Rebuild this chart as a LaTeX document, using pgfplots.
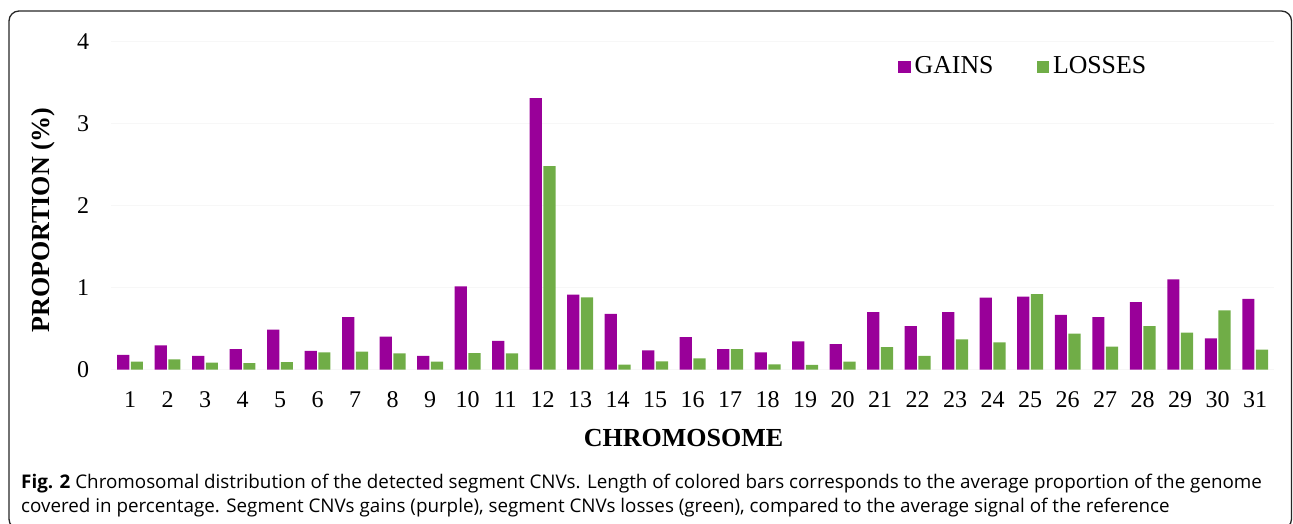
\documentclass[border=0pt]{standalone}
\usepackage{pgfplots}
\pgfplotsset{compat=1.18}
\usepackage{fontspec}
\setmainfont{Liberation Serif}
\newfontfamily\capfont{Open Sans}
\definecolor{gainc}{HTML}{990099}
\definecolor{lossc}{HTML}{70AD47}
\begin{document}
\begin{tikzpicture}[x=1pt,y=1pt]
\useasboundingbox (0,0) rectangle (1293,523);
\draw[line width=1.3pt, rounded corners=10pt, black!85] (9,-6) rectangle (1291.5,512);
\begin{axis}[
  at={(111.25pt,153.5pt)}, anchor=south west,
  scale only axis, width=1162.75pt, height=328pt,
  xmin=0.5, xmax=31.5, ymin=0, ymax=4,
  ybar=1.5pt, bar width=12.2pt,
  axis line style={draw=none},
  major tick length=0pt,
  xtick={1,...,31}, ytick={0,1,2,3,4},
  ymajorgrids, grid style={black!3},
  /pgf/number format/assume math mode=true,
  tick label style={font=\fontsize{24}{24}\selectfont, inner sep=0pt},
  xticklabel style={anchor=north, yshift=-22pt},
  yticklabel style={anchor=east, xshift=-22pt},
  xlabel={CHROMOSOME}, ylabel={PROPORTION (\%)},
  label style={font=\bfseries\fontsize{26}{26}\selectfont, inner sep=0pt},
  xlabel style={at={(axis description cs:0.4922,-0.2088)}, anchor=center},
  ylabel style={at={(axis description cs:-0.0587,0.456)}, anchor=center, rotate=0},
  legend columns=2,
  legend style={draw=none, fill=none, at={(axis description cs:0.6766,0.926)}, anchor=west,
    font=\fontsize{25.8}{26}\selectfont, inner sep=0pt,
    nodes={inner sep=4pt},
    /tikz/every even column/.append style={column sep=39pt}},
  legend image code/.code={\fill[#1] (0pt,-7.5pt) rectangle (12.5pt,5pt);},
]
\addplot[fill=gainc, draw=none] coordinates {
(1,0.177) (2,0.295) (3,0.165) (4,0.25) (5,0.485) (6,0.226) (7,0.64) (8,0.40) (9,0.165) (10,1.015)
(11,0.348) (12,3.31) (13,0.912) (14,0.677) (15,0.234) (16,0.396) (17,0.25) (18,0.21) (19,0.344) (20,0.31)
(21,0.70) (22,0.53) (23,0.70) (24,0.876) (25,0.888) (26,0.665) (27,0.64) (28,0.823) (29,1.10) (30,0.38) (31,0.86)};
\addplot[fill=lossc, draw=none] coordinates {
(1,0.095) (2,0.124) (3,0.083) (4,0.079) (5,0.091) (6,0.21) (7,0.217) (8,0.197) (9,0.095) (10,0.20)
(11,0.197) (12,2.48) (13,0.88) (14,0.06) (15,0.10) (16,0.136) (17,0.25) (18,0.063) (19,0.055) (20,0.095)
(21,0.274) (22,0.165) (23,0.368) (24,0.33) (25,0.92) (26,0.437) (27,0.278) (28,0.53) (29,0.449) (30,0.72) (31,0.241)};
\legend{GAINS,LOSSES}
\end{axis}
\node[anchor=base west, inner sep=0pt, font=\capfont\fontsize{18.8}{24}\selectfont] at (21,35)
 {\textbf{Fig. 2} Chromosomal distribution of the detected segment CNVs. Length of colored bars corresponds to the average proportion of the genome};
\node[anchor=base west, inner sep=0pt, font=\capfont\fontsize{18.8}{24}\selectfont] at (21,11)
 {covered in percentage. Segment CNVs gains (purple), segment CNVs losses (green), compared to the average signal of the reference};
\end{tikzpicture}
\end{document}
